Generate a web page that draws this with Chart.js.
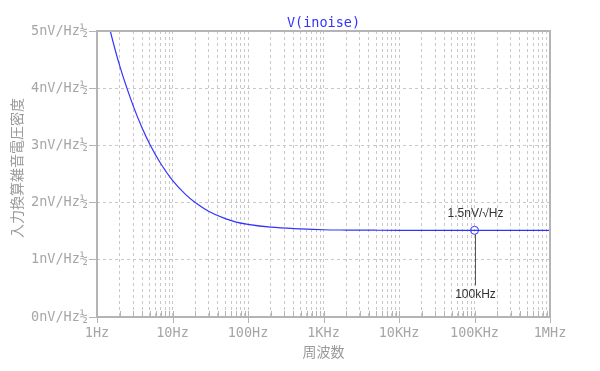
<!DOCTYPE html>
<html>
<head>
<meta charset="utf-8">
<script src="https://cdn.jsdelivr.net/npm/chart.js@4.4.0/dist/chart.umd.min.js"></script>
<style>
html, body { margin: 0; padding: 0; background: #fff; }
</style>
</head>
<body>
<canvas id="mycanvas" width="600" height="371"></canvas>
<script>
// values
var freq  = [1, 1.5, 2, 3, 4, 5, 7, 10, 15, 20, 30, 50, 70, 100, 200, 500, 1000, 2000, 5000, 10000, 100000, 1000000];
var noise = [6.0, 5.0, 4.39, 3.70, 3.29, 3.02, 2.68, 2.39, 2.14, 2.00, 1.85, 1.72, 1.66, 1.62, 1.57, 1.54, 1.525, 1.52, 1.517, 1.516, 1.515, 1.515];

var xTickValues = [1, 10, 100, 1000, 10000, 100000, 1000000];
var xTickLabels = ['1Hz', '10Hz', '100Hz', '1KHz', '10KHz', '100KHz', '1MHz'];
var yTickValues = [0, 1, 2, 3, 4, 5];
var yTickLabels = ['0nV/Hz½', '1nV/Hz½', '2nV/Hz½', '3nV/Hz½', '4nV/Hz½', '5nV/Hz½'];

var markerFreq = [100000];
var markerValue = [1.515];
var markerText = '1.5nV/√Hz';
var markerFreqText = '100kHz';

var titleText = 'V(inoise)';
var xTitle = '周波数';
var yTitle = '入力換算雑音電圧密度';

var grey = '#a6a6a6';
var frameGrey = '#b4b4b4';
var blue = '#3333ff';

var points = [];
for (var i in freq) {
	points.push({x: freq[i], y: noise[i]});
}

// every 1..9 step of each decade gets a grid line
var gridValues = [];
for (var d = 0; d < 6; d++) {
	for (var k = 1; k < 10; k++) {
		gridValues.push(k * Math.pow(10, d));
	}
}
gridValues.push(1000000);

var decor = {
	id: 'decor',
	afterDatasetsDraw: function(chart) {
		var ctx = chart.ctx;
		var xs = chart.scales.x, ys = chart.scales.y;
		var px = Math.round(xs.getPixelForValue(markerFreq[0])) + 0.5;
		var py = ys.getPixelForValue(markerValue[0]);
		ctx.save();
		ctx.strokeStyle = '#555';
		ctx.lineWidth = 1;
		ctx.beginPath();
		ctx.moveTo(px, py + 4);
		ctx.lineTo(px, py + 55);
		ctx.stroke();
		ctx.fillStyle = '#333';
		ctx.font = '12px "Liberation Sans", Arial, sans-serif';
		ctx.textAlign = 'center';
		ctx.textBaseline = 'middle';
		ctx.fillText(markerText, px, py - 17);
		ctx.fillText(markerFreqText, px, py + 64);
		ctx.restore();
	},
	afterDraw: function(chart) {
		var ctx = chart.ctx;
		var a = chart.chartArea;
		var xs = chart.scales.x;
		ctx.save();
		ctx.strokeStyle = frameGrey;
		ctx.lineWidth = 1;
		ctx.beginPath();
		xs.ticks.forEach(function(t) {
			var x = Math.round(xs.getPixelForValue(t.value)) + 0.5;
			var major = xTickValues.indexOf(t.value) >= 0;
			ctx.moveTo(x, a.bottom - 6);
			ctx.lineTo(x, major ? a.bottom + 6 : a.bottom);
		});
		ctx.stroke();
		ctx.lineWidth = 2;
		ctx.strokeRect(a.left, a.top, a.right - a.left, a.bottom - a.top);

		ctx.fillStyle = blue;
		ctx.font = '13.5px "DejaVu Sans Mono", monospace';
		ctx.textAlign = 'center';
		ctx.textBaseline = 'middle';
		ctx.fillText(titleText, (a.left + a.right) / 2, 23);

		ctx.fillStyle = '#9a9a9a';
		ctx.font = '14px "Noto Sans CJK JP", sans-serif';
		ctx.fillText(xTitle, (a.left + a.right) / 2, 352);
		ctx.translate(17, (a.top + a.bottom) / 2 - 6);
		ctx.rotate(-Math.PI / 2);
		ctx.fillText(yTitle, 0, 0);
		ctx.restore();
	}
};

var ctx = document.getElementById('mycanvas');

var chart = new Chart(ctx, {
	type: 'line',
	data: {
		datasets: [
			{
				label: 'V(inoise)',
				data: points,
				borderColor: blue,
				borderWidth: 1.2,
				pointRadius: 0,
				fill: false,
				cubicInterpolationMode: 'monotone'
			},
			{
				label: 'marker',
				data: [{x: markerFreq[0], y: markerValue[0]}],
				showLine: false,
				pointRadius: 4,
				pointBorderWidth: 1,
				pointBorderColor: blue,
				pointBackgroundColor: 'rgba(0,0,0,0)'
			}
		]
	},
	options: {
		responsive: false,
		animation: false,
		layout: { padding: { top: 31, right: 50, left: 0, bottom: 0 } },
		plugins: {
			legend: { display: false },
			tooltip: { enabled: false }
		},
		scales: {
			x: {
				type: 'logarithmic',
				min: 1,
				max: 1000000,
				afterBuildTicks: function(scale) {
					scale.ticks = gridValues.map(function(v) { return {value: v}; });
				},
				afterFit: function(scale) { scale.height = 54; },
				grid: { color: '#c8c8c8', lineWidth: 1, drawTicks: false },
				border: { display: false, dash: [3, 3] },
				ticks: {
					autoSkip: false,
					maxRotation: 0,
					padding: 8,
					color: grey,
					font: { family: 'DejaVu Sans Mono', size: 13.5 },
					callback: function(value) {
						var i = xTickValues.indexOf(value);
						return i >= 0 ? xTickLabels[i] : '';
					}
				}
			},
			y: {
				min: 0,
				max: 5,
				afterBuildTicks: function(scale) {
					scale.ticks = yTickValues.map(function(v) { return {value: v}; });
				},
				afterFit: function(scale) { scale.width = 97; },
				grid: { color: '#c8c8c8', lineWidth: 1, tickLength: 8, tickColor: frameGrey },
				border: { display: false, dash: [3, 3] },
				ticks: {
					padding: 1,
					color: grey,
					font: { family: 'DejaVu Sans Mono', size: 13.5 },
					callback: function(value) {
						var i = yTickValues.indexOf(value);
						return i >= 0 ? yTickLabels[i] : '';
					}
				}
			}
		}
	},
	plugins: [decor]
});
</script>
</body>
</html>
